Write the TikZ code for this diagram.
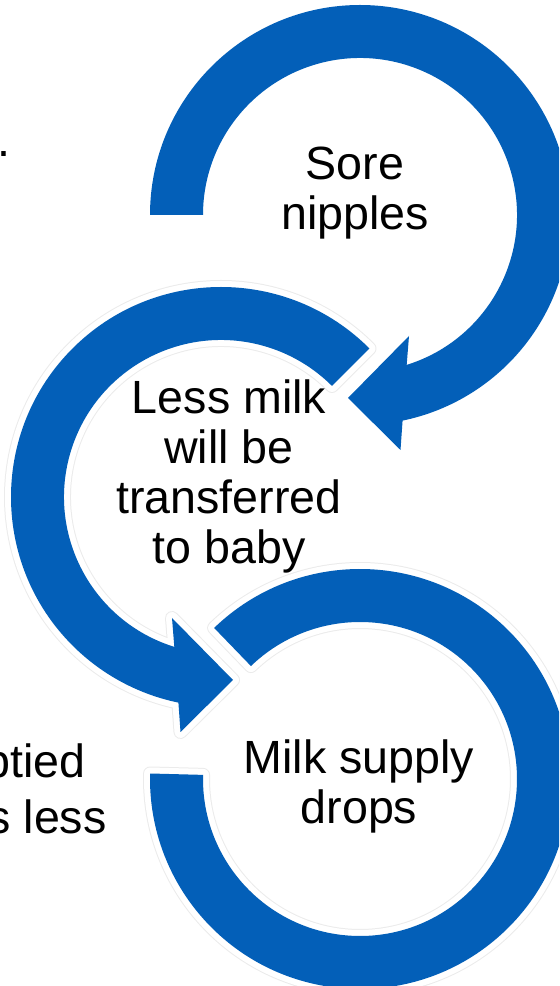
\documentclass[tikz,border=0pt]{standalone}
\usepackage{fontspec}
\setmainfont{Liberation Sans}
\definecolor{loopblue}{RGB}{3,95,184}

\begin{document}
\begin{tikzpicture}[x=0.5pt,y=0.5pt,
  band/.style={fill=loopblue},
  halo/.style={preaction={draw=black!8,line width=7pt,line join=round},
               preaction={draw=white,line width=6pt,line join=round}},
  steptext/.style={align=center,inner sep=0pt,font=\fontsize{23.3}{25}\selectfont},
  cuttext/.style={inner sep=0pt,font=\fontsize{23.3}{25}\selectfont}]
\clip (0,0) rectangle (559,986);
% first loop, ends with a head pointing at the second one
\begin{scope}[shift={(360,771)}]
\fill[band] (180:210) arc[start angle=180,end angle=-78.3,radius=210]
  -- (40.5,-235) -- (-12,-183) -- (49,-121) -- (-72.7:157)
  arc[start angle=-72.7,end angle=180,radius=157] -- cycle;
\end{scope}
% second loop
\begin{scope}[shift={(221,489)}]
\fill[band,halo] (45:210) arc[start angle=45,end angle=258.3,radius=210]
  -- (-40.5,-235) -- (12,-183) -- (-49,-121) -- (252.7:157)
  arc[start angle=252.7,end angle=45,radius=157] -- cycle;
\end{scope}
% third loop, no head
\begin{scope}[shift={(360,207)}]
\fill[band,halo] (134:210) arc[start angle=134,end angle=-181.5,radius=210]
  -- (-181.5:157) arc[start angle=-181.5,end angle=134,radius=157] -- cycle;
\end{scope}
\node[steptext] (sore) at (355,793) {Sore\\nipples};
\node[steptext] (lessmilk) at (229,510) {Less milk\\will be\\transferred\\to baby};
\node[steptext] (supply) at (359,200) {Milk supply\\drops};
% text cut off by the left border
\node[cuttext,anchor=base west] (dot) at (-3,829) {.};
\node[cuttext,anchor=base east] (emptied) at (86,208) {ptied};
\node[cuttext,anchor=base east] (less) at (107,152) {s less};
\end{tikzpicture}
\end{document}
